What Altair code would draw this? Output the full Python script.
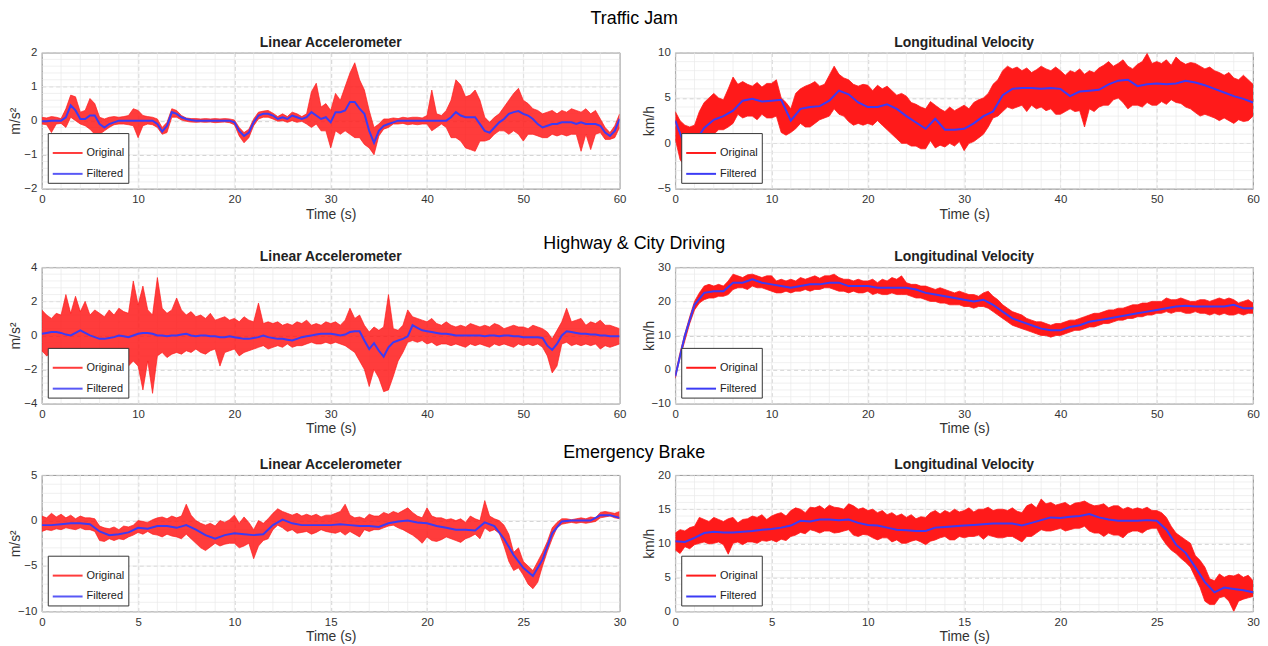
import altair as alt
import numpy as np
import pandas as pd

# ---------------- data ----------------
# "Original" signals are dense noise: given as the upper / lower edge of the red band.
# Traffic Jam - Linear Accelerometer (m/s^2), 0..60 s, every 0.5 s
tj_acc_upper = [
    0.1, 0.08, 0.12, 0.1, 0.06, 0.35, 0.75, 0.7, 0.25, 0.3,
    0.65, 0.5, 0.1, 0.05, 0.1, 0.12, 0.1, 0.12, 0.15, 0.35,
    0.3, 0.15, 0.12, 0.1, 0.05, -0.2, -0.05, 0.35, 0.3, 0.15,
    0.08, 0.06, 0.06, 0.05, 0.06, 0.05, 0.06, 0.05, 0.06, 0.05,
    0.02, -0.2, -0.35, -0.25, 0.05, 0.25, 0.28, 0.3, 0.22, 0.12,
    0.2, 0.12, 0.25, 0.2, 0.12, 0.2, 0.85, 1.1, 0.4, 0.5,
    0.3, 0.8, 0.6, 1.0, 1.4, 1.7, 1.2, 0.9, 0.3, -0.2,
    -0.1, 0.05, 0.05, 0.08, 0.06, 0.1, 0.08, 0.1, 0.1, 0.08,
    0.15, 0.9, 0.2, 0.15, 0.3, 0.6, 1.2, 1.05, 0.7, 0.75,
    0.9, 0.6, 0.1, -0.05, 0.1, 0.2, 0.4, 0.6, 0.8, 0.95,
    0.6, 0.5, 0.35, 0.3, 0.2, 0.25, 0.3, 0.2, 0.3, 0.25,
    0.35, 0.3, 0.25, 0.35, 0.2, 0.3, 0.05, -0.2, -0.35, -0.15,
    0.2,
]
tj_acc_lower = [
    -0.1, -0.12, -0.35, -0.1, -0.08, -0.2, 0.1, 0.0, -0.1, -0.15,
    -0.25, -0.4, -0.4, -0.3, -0.2, -0.12, -0.1, -0.1, -0.12, -0.15,
    -0.5, -0.15, -0.1, -0.12, -0.2, -0.4, -0.35, 0.1, 0.1, 0.02,
    -0.02, -0.04, -0.05, -0.04, -0.05, -0.04, -0.06, -0.05, -0.04, -0.06,
    -0.12, -0.45, -0.65, -0.5, -0.15, 0.05, 0.1, 0.1, 0.05, -0.02,
    0.0, -0.05, 0.0, -0.05, -0.02, -0.1, -0.2, -0.1, -0.3, -0.3,
    -0.8, -0.3, -0.4, -0.3, -0.4, -0.5, -0.5, -0.7, -0.8, -1.0,
    -0.45, -0.25, -0.2, -0.1, -0.1, -0.08, -0.12, -0.1, -0.12, -0.1,
    -0.1, -0.3, -0.2, -0.1, -0.2, -0.5, -0.5, -0.6, -0.8, -0.85,
    -0.9, -0.6, -0.6, -0.55, -0.4, -0.3, -0.3, -0.4, -0.3, -0.4,
    -0.6, -0.4, -0.4, -0.45, -0.5, -0.5, -0.4, -0.45, -0.4, -0.45,
    -0.4, -0.4, -0.9, -0.4, -0.85, -0.4, -0.35, -0.55, -0.55, -0.5,
    -0.2,
]
tj_acc_filt = [
    -0.02, -0.02, 0.0, 0.0, 0.0, 0.1, 0.45, 0.3, 0.05, 0.05,
    0.15, 0.15, -0.1, -0.2, -0.1, -0.05, 0.0, 0.0, 0.0, 0.0,
    0.0, 0.0, 0.0, 0.0, -0.1, -0.32, -0.15, 0.25, 0.2, 0.1,
    0.05, 0.02, 0.0, 0.0, 0.0, 0.0, 0.0, 0.0, 0.0, 0.0,
    -0.05, -0.3, -0.45, -0.35, -0.05, 0.15, 0.2, 0.2, 0.15, 0.05,
    0.1, 0.05, 0.15, 0.1, 0.05, 0.1, 0.25, 0.15, 0.05, 0.1,
    -0.05, 0.25, 0.25, 0.3, 0.55, 0.55, 0.35, 0.2, -0.3, -0.65,
    -0.3, -0.15, -0.1, -0.05, 0.0, 0.0, 0.0, 0.0, 0.0, 0.0,
    0.0, 0.0, 0.0, 0.0, 0.0, 0.1, 0.25, 0.15, 0.1, 0.1,
    0.1, -0.1, -0.3, -0.35, -0.2, -0.05, 0.05, 0.2, 0.25, 0.28,
    0.2, 0.15, 0.05, -0.1, -0.2, -0.15, -0.1, -0.1, -0.05, -0.05,
    -0.05, -0.1, -0.05, -0.1, -0.1, -0.1, -0.15, -0.35, -0.45, -0.3,
    0.05,
]

# Traffic Jam - Longitudinal Velocity (km/h), 0..60 s
tj_vel_upper = [
    3.5, 2.5, 2.0, 1.8, 2.0, 3.5, 4.5, 5.0, 5.5, 5.0,
    4.8, 6.0, 7.3, 6.5, 6.8, 6.5, 6.3, 6.7, 6.2, 6.6,
    6.6, 7.0, 5.0, 4.5, 3.8, 5.5, 6.0, 6.3, 6.5, 6.8,
    6.3, 6.5, 7.5, 8.5, 7.6, 7.2, 7.0, 6.5, 6.3, 6.5,
    6.4, 5.8, 6.4, 6.0, 6.3, 5.8, 5.3, 5.5, 5.2, 4.5,
    4.3, 4.0, 3.8, 4.6, 4.2, 3.8, 3.5, 4.0, 3.6, 3.9,
    4.2, 3.8, 4.5, 4.8, 5.0, 5.5, 6.5, 7.0, 8.0, 8.5,
    8.2, 8.4, 8.0, 8.3, 7.8, 8.1, 8.5, 8.2, 8.0, 8.4,
    8.0, 7.5, 8.0, 7.8, 8.2, 7.6, 8.0, 7.8, 8.3, 8.6,
    9.0, 8.5, 8.8, 9.2, 8.5, 8.2, 8.7, 9.0, 9.9, 8.8,
    9.0, 8.8, 9.2, 8.6, 9.5, 9.0, 8.7, 8.9, 8.8, 8.5,
    8.2, 8.4, 8.0, 7.8, 7.5, 7.8, 7.2, 7.0, 7.5, 7.0,
    6.5,
]
tj_vel_lower = [
    0.5, -1.8, -2.5, -1.8, -1.5, -1.0, 0.2, 0.8, 1.0, 1.5,
    1.5, 1.8, 2.2, 3.2, 2.8, 3.0, 3.0, 2.6, 3.2, 2.8,
    2.8, 3.0, 1.2, 0.9, 1.2, 1.6, 2.2, 1.8, 1.8, 2.2,
    2.6, 2.8, 3.0, 3.8, 3.2, 3.0, 2.4, 2.0, 2.2, 2.0,
    2.2, 2.0, 2.5, 2.0, 1.5, 1.0, 0.5, 0.0, 0.0, -0.3,
    -0.3, -0.6, -0.6, 0.3, -0.5, -0.2, -0.4, 0.0, -0.3, 0.2,
    -0.8, 0.0, 0.2, 0.6, 1.0, 1.8, 2.8, 3.0, 3.5, 4.0,
    3.8, 4.0, 4.2, 3.5, 4.2, 3.8, 4.0, 3.6, 3.8, 3.2,
    3.2, 3.5, 3.8, 3.5, 3.6, 1.8, 3.8, 3.5, 4.0, 4.2,
    4.2, 4.8, 5.0, 4.5, 3.8, 4.2, 4.2, 4.0, 4.5, 4.2,
    4.2, 4.6, 4.3, 4.8, 4.5, 4.4, 4.0, 3.8, 3.4, 3.0,
    3.2, 3.0, 2.8, 2.5, 2.8, 2.5, 2.2, 2.6, 2.4, 2.5,
    3.0,
]
tj_vel_filt = [
    2.5, -0.3, 0.1, 1.7, 2.6, 3.0, 3.6, 4.7, 4.9, 4.6,
    4.7, 4.8, 2.5, 3.8, 4.0, 4.1, 4.7, 5.8, 5.4, 4.5,
    4.0, 4.0, 4.3, 3.8, 3.0, 2.3, 1.6, 2.7, 1.5, 1.5,
    1.6, 2.2, 3.0, 3.5, 5.3, 6.0, 6.1, 6.1, 6.0, 6.1,
    6.0, 5.2, 5.7, 5.8, 5.9, 6.5, 6.9, 7.0, 6.3, 6.5,
    6.6, 6.5, 6.6, 6.9, 6.7, 6.4, 6.0, 5.6, 5.2, 4.9,
    4.5,
]

# Highway & City Driving - Linear Accelerometer (m/s^2), 0..60 s
hw_acc_upper = [
    1.5, 1.2, 1.0, 1.3, 1.2, 2.4, 1.3, 2.3, 1.4, 2.0,
    1.2, 1.5, 1.3, 1.1, 1.5, 1.2, 1.6, 1.4, 1.3, 3.2,
    1.8, 2.9, 1.5, 1.2, 3.4, 1.6, 1.3, 1.5, 2.2, 1.5,
    1.2, 1.4, 1.1, 1.2, 1.0, 1.3, 0.9, 1.0, 1.1, 0.9,
    1.0, 0.8, 1.1, 0.9, 0.8, 1.9, 0.7, 0.8, 0.7, 0.8,
    0.6, 0.7, 0.6, 0.8, 0.7, 0.9, 0.6, 0.7, 0.6, 0.8,
    0.7, 0.8, 0.6, 0.9, 1.6, 1.0, 1.2, 0.6, 0.2, 0.5,
    0.3, 0.5, 2.4, 0.4, 0.3, 0.6, 1.5, 1.1, 1.0, 0.9,
    0.8, 1.0, 0.7, 0.6, 0.8, 0.6, 0.5, 0.6, 0.5, 0.7,
    0.6, 0.5, 0.6, 0.5, 0.7, 0.6, 0.4, 0.5, 0.6, 0.5,
    0.5, 0.4, 0.6, 0.5, 0.4, 0.2, -0.2, 0.3, 0.8, 1.6,
    0.8, 0.9, 1.0, 0.6, 0.8, 0.7, 0.9, 0.6, 0.6, 0.5,
    0.4,
]
hw_acc_lower = [
    -0.9, -1.2, -1.0, -1.3, -1.0, -1.4, -1.2, -1.5, -1.0, -1.3,
    -1.4, -1.2, -1.6, -1.4, -2.0, -1.3, -1.5, -1.2, -1.8, -1.5,
    -1.8, -3.2, -1.5, -3.4, -1.2, -1.0, -1.3, -1.1, -1.0, -1.1,
    -0.9, -1.0, -0.8, -1.0, -1.1, -0.9, -0.8, -1.8, -1.0, -0.9,
    -0.8, -1.2, -1.0, -0.9, -0.8, -0.7, -0.6, -0.8, -0.7, -0.6,
    -0.7, -0.5, -0.7, -0.6, -0.6, -0.5, -0.4, -0.5, -0.5, -0.4,
    -0.5, -0.4, -0.5, -0.6, -0.8, -1.0, -1.5, -2.0, -3.0, -2.0,
    -2.5, -3.3, -3.2, -2.4, -1.5, -1.0, -0.4, -0.3, -0.4, -0.3,
    -0.5, -0.4, -0.6, -0.5, -0.5, -0.6, -0.5, -0.6, -0.7, -0.5,
    -0.6, -0.5, -0.6, -0.7, -0.5, -0.6, -0.5, -0.6, -0.7, -0.5,
    -0.6, -0.5, -0.6, -0.5, -0.7, -1.2, -2.2, -1.8, -0.5, -0.4,
    -0.6, -0.5, -0.6, -0.5, -0.6, -0.5, -0.8, -0.6, -0.7, -0.6,
    -0.5,
]
hw_acc_filt = [
    0.1, 0.15, 0.2, 0.2, 0.15, 0.05, 0.0, 0.15, 0.3, 0.15,
    0.0, -0.1, -0.2, -0.2, -0.15, -0.1, 0.0, -0.05, -0.1, 0.0,
    0.1, 0.15, 0.15, 0.1, 0.0, 0.0, -0.05, 0.0, 0.0, 0.05,
    0.1, 0.0, -0.05, 0.0, 0.0, -0.05, -0.05, -0.1, -0.1, -0.05,
    -0.1, -0.15, -0.2, -0.2, -0.15, -0.1, 0.0, -0.1, -0.15, -0.2,
    -0.2, -0.25, -0.3, -0.2, -0.1, -0.05, 0.0, 0.05, 0.1, 0.1,
    0.1, 0.05, 0.0, 0.05, 0.2, 0.25, 0.25, -0.3, -0.8, -0.45,
    -0.9, -1.25, -0.7, -0.4, -0.3, -0.2, -0.05, 0.6, 0.45, 0.3,
    0.25, 0.2, 0.15, 0.1, 0.1, 0.05, 0.0, 0.0, 0.0, 0.0,
    0.0, 0.0, -0.05, 0.0, 0.0, -0.05, 0.0, 0.0, -0.05, -0.05,
    -0.1, -0.1, -0.1, -0.1, -0.15, -0.6, -0.85, -0.5, 0.0, 0.25,
    0.2, 0.15, 0.1, 0.1, 0.05, 0.05, 0.0, 0.0, -0.05, -0.05,
    -0.05,
]

# Highway & City Driving - Longitudinal Velocity (km/h), 0..60 s
hw_vel_upper = [
    -1.5, 5.0, 10.5, 15.5, 20.0, 22.5, 24.5, 25.0, 24.5, 25.0,
    24.5, 26.0, 28.0, 27.5, 27.0, 27.8, 28.0, 27.5, 27.0, 27.5,
    27.5, 26.0, 26.5, 26.0, 26.5, 26.0, 27.0, 26.5, 27.0, 27.5,
    26.8, 27.5, 27.5, 28.0, 27.0, 26.5, 26.5, 26.0, 26.5, 26.0,
    26.0, 26.5, 25.5, 26.5, 26.0, 27.0, 26.5, 27.5, 25.5, 25.0,
    25.0, 24.5, 24.5, 24.0, 23.5, 24.0, 23.5, 23.0, 22.5, 23.0,
    22.5, 22.0, 22.0, 21.5, 22.5, 23.0, 21.5, 20.5, 19.0, 18.0,
    17.0, 16.5, 16.0, 15.0, 14.5, 14.0, 14.0, 13.5, 13.0, 13.5,
    13.5, 14.0, 14.5, 14.5, 15.0, 15.5, 16.0, 16.5, 16.5, 17.0,
    17.5, 17.5, 18.0, 18.0, 18.5, 19.0, 19.0, 19.5, 19.5, 20.0,
    20.0, 20.0, 21.0, 20.5, 20.5, 21.0, 20.5, 20.0, 20.0, 20.5,
    20.5, 20.0, 20.5, 21.0, 20.5, 21.0, 20.5, 19.5, 20.0, 20.5,
    19.5,
]
hw_vel_lower = [
    -2.5, 3.5, 8.5, 13.5, 17.5, 19.5, 20.5, 21.0, 21.0, 21.5,
    21.5, 22.0, 23.5, 24.0, 24.0, 23.5, 24.5, 24.0, 24.0, 23.5,
    23.0, 22.5, 22.5, 23.0, 22.5, 23.0, 23.0, 23.5, 23.0, 23.5,
    23.5, 24.0, 24.0, 23.5, 23.0, 23.0, 22.5, 23.0, 22.5, 22.5,
    23.0, 22.0, 22.5, 22.0, 22.0, 22.5, 22.0, 22.0, 22.0, 21.5,
    21.0, 21.0, 20.5, 20.0, 20.0, 19.5, 19.5, 19.0, 19.0, 19.0,
    18.5, 18.5, 18.0, 18.5, 18.5, 18.0, 17.0, 16.0, 15.0, 14.0,
    13.0, 12.5, 12.0, 11.5, 11.0, 10.5, 10.0, 10.0, 9.5, 10.0,
    10.0, 10.5, 11.0, 11.5, 11.5, 12.0, 12.5, 12.5, 13.0, 13.5,
    13.5, 14.0, 14.5, 14.5, 15.0, 15.0, 15.5, 15.5, 16.0, 16.0,
    16.5, 16.5, 17.0, 16.5, 17.0, 17.0, 16.5, 16.5, 17.0, 16.5,
    16.5, 16.0, 16.5, 16.0, 16.5, 16.0, 16.0, 16.5, 16.0, 16.5,
    16.5,
]
hw_vel_filt = [
    -2.0, 10.0, 19.0, 22.5, 23.0, 23.0, 25.5, 25.5, 26.5, 25.5,
    25.0, 24.5, 24.0, 24.5, 25.0, 25.0, 25.5, 25.5, 24.5, 24.5,
    24.5, 24.0, 24.0, 24.0, 24.0, 23.5, 22.5, 22.0, 21.5, 21.0,
    20.5, 20.0, 20.5, 19.0, 17.0, 15.0, 14.0, 13.0, 12.0, 11.5,
    11.5, 12.5, 13.0, 14.0, 14.5, 15.0, 15.5, 16.0, 16.5, 17.0,
    17.5, 18.0, 18.5, 18.7, 18.5, 18.5, 18.5, 18.5, 19.0, 18.0,
    18.0,
]

# Emergency Brake - Linear Accelerometer (m/s^2), 0..30 s, every 0.25 s
eb_acc_upper = [
    0.5, 0.3, 0.8, 0.4, 0.7, 0.3, 0.6, 0.2, 0.5, 0.3,
    0.3, 0.2, -0.6, -0.8, -0.9, -0.7, -1.0, -0.6, -0.7, -0.5,
    0.0, -0.1, -0.2, 0.1, 0.3, 0.4, 0.2, 0.5, 0.3, 0.5,
    1.8, 0.6, 0.0, -0.3, -0.5, -0.3, -0.6, 0.0, -0.2, 0.1,
    0.6, -0.3, 0.4, -0.2, -1.0, 0.0, -0.3, 0.2, 0.8, 1.3,
    1.0, 0.8, 0.6, 0.8, 0.5, 0.7, 0.5, 0.7, 0.4, 0.6,
    0.6, 0.8, 1.0, 1.8, 0.6, 0.3, 0.4, 0.2, 0.7, 0.5,
    0.5, 0.9, 0.7, 1.0, 0.8, 1.1, 1.4, 0.9, 0.5, 0.3,
    1.4, 0.5, 0.3, 0.3, 0.1, 0.2, 0.0, 0.2, -0.2, 0.5,
    0.2, 0.0, 2.2, 0.5, 0.2, 0.0, -0.5, -1.5, -3.5, -3.0,
    -4.5, -5.0, -5.5, -4.5, -3.5, -2.3, -0.8, -0.2, 0.2, 0.2,
    0.1, 0.2, 0.3, 0.2, 0.4, 0.3, 0.9, 1.0, 0.9, 0.8,
    1.0,
]
eb_acc_lower = [
    -1.2, -1.0, -1.1, -0.9, -1.0, -0.8, -0.9, -1.0, -0.8, -1.0,
    -1.0, -1.2, -2.2, -2.3, -2.0, -2.2, -2.0, -2.1, -1.8, -1.6,
    -1.3, -1.5, -1.2, -1.5, -1.6, -1.8, -1.5, -1.7, -1.8, -2.0,
    -1.5, -2.0, -2.5, -3.0, -3.3, -2.9, -2.5, -2.8, -2.6, -2.5,
    -2.5, -3.0, -2.8, -2.5, -4.2, -2.8, -2.2, -2.0, -1.0, -0.5,
    -0.8, -1.2, -1.0, -1.4, -1.3, -1.2, -1.5, -1.3, -1.0, -1.2,
    -1.3, -1.4, -1.2, -1.6, -1.2, -1.5, -1.8, -1.0, -1.2, -1.0,
    -1.0, -0.8, -0.6, -0.5, -0.8, -1.0, -1.3, -1.6, -2.0, -2.5,
    -1.8, -2.2, -2.3, -2.1, -1.8, -2.0, -2.2, -2.4, -2.0, -1.8,
    -1.5, -2.0, -0.8, -1.2, -1.0, -1.4, -2.8, -4.5, -5.5, -5.2,
    -6.0, -7.0, -7.5, -6.8, -5.0, -3.4, -2.0, -0.8, -0.4, -0.3,
    -0.2, -0.3, -0.2, -0.3, -0.2, -0.1, 0.3, 0.4, 0.5, 0.3,
    0.2,
]
eb_acc_filt = [
    -0.5, -0.5, -0.4, -0.3, -0.3, -0.4, -1.2, -1.6, -1.5, -1.3,
    -0.8, -0.9, -0.6, -0.6, -0.8, -0.5, -1.0, -1.6, -2.0, -1.6,
    -1.4, -1.5, -1.6, -1.5, -0.5, 0.1, -0.3, -0.5, -0.5, -0.5,
    -0.5, -0.4, -0.5, -0.6, -0.6, -0.7, -0.3, -0.1, 0.0, -0.2,
    -0.3, -0.6, -0.8, -1.0, -1.0, -1.1, -0.2, -0.6, -2.0, -3.8,
    -5.2, -6.1, -4.3, -1.4, -0.1, 0.0, 0.0, 0.0, 0.6, 0.6,
    0.3,
]

# Emergency Brake - Longitudinal Velocity (km/h), 0..30 s
eb_vel_upper = [
    11.5, 12.0, 11.8, 12.3, 12.5, 13.8, 13.5, 13.2, 13.8, 13.5,
    13.2, 13.6, 13.8, 13.0, 13.5, 13.6, 14.0, 13.8, 14.2, 13.5,
    14.0, 14.3, 14.5, 14.0, 14.8, 15.2, 15.0, 14.5, 15.3, 15.2,
    15.5, 15.0, 15.6, 15.3, 15.2, 15.0, 15.8, 15.5, 15.0, 15.2,
    14.8, 15.0, 14.5, 14.8, 14.2, 14.5, 14.0, 14.3, 13.8, 14.2,
    13.6, 13.9, 13.8, 14.5, 14.8, 14.3, 14.8, 14.5, 15.0, 14.6,
    14.8, 15.2, 14.6, 15.0, 15.0, 15.3, 14.8, 15.0, 15.0, 14.8,
    15.2, 14.7, 14.5, 15.5, 15.8, 15.2, 16.5, 15.8, 16.0, 15.6,
    15.8, 16.0, 15.5, 15.9, 16.0, 16.2, 15.8, 15.5, 15.6, 15.8,
    15.2, 15.5, 15.5, 15.0, 15.3, 15.0, 15.2, 15.0, 15.3, 14.8,
    14.8, 14.5, 13.8, 12.5, 11.5, 11.0, 10.5, 10.0, 8.2, 7.5,
    6.5, 4.8, 4.5, 5.5, 5.0, 5.3, 5.2, 5.5, 5.0, 5.3,
    4.5,
]
eb_vel_lower = [
    9.0, 8.5, 9.5, 9.2, 9.8, 10.0, 10.2, 9.9, 10.0, 10.2,
    9.8, 8.4, 10.0, 10.2, 9.8, 10.2, 10.2, 10.0, 10.4, 10.3,
    10.5, 10.2, 10.6, 10.4, 11.0, 11.2, 11.6, 11.4, 12.0, 11.8,
    11.5, 11.8, 11.8, 11.5, 11.6, 11.8, 12.0, 11.2, 11.0, 11.3,
    11.2, 10.8, 10.5, 10.8, 10.8, 10.2, 10.5, 10.0, 10.0, 10.3,
    10.5, 10.2, 9.8, 10.3, 10.5, 10.8, 11.0, 10.5, 10.5, 11.0,
    10.8, 11.0, 11.0, 11.2, 10.6, 11.2, 11.0, 10.8, 10.8, 11.0,
    11.0, 10.6, 10.2, 11.0, 11.0, 11.5, 12.0, 11.8, 11.8, 12.0,
    12.2, 11.8, 12.0, 12.2, 12.2, 12.5, 11.8, 11.5, 11.5, 11.0,
    11.5, 11.2, 11.2, 10.8, 11.5, 11.8, 11.8, 11.5, 12.0, 12.2,
    12.2, 10.8, 9.8, 9.0, 8.5, 7.8, 7.2, 6.5, 5.0, 3.5,
    1.5, 1.0, 1.0, 2.0, 2.2, 1.5, 0.0, 1.5, 1.8, 2.0,
    2.2,
]
eb_vel_filt = [
    10.3, 10.2, 10.8, 11.5, 11.7, 11.6, 11.6, 11.7, 11.8, 12.0,
    12.1, 12.3, 12.6, 13.3, 13.2, 13.5, 13.5, 13.4, 13.5, 13.0,
    12.7, 12.6, 12.3, 12.0, 11.9, 11.8, 11.8, 12.3, 12.4, 12.5,
    12.6, 12.7, 12.8, 12.9, 12.9, 12.9, 12.6, 13.0, 13.4, 13.8,
    13.7, 13.9, 14.0, 14.3, 13.8, 13.5, 13.3, 13.3, 13.3, 13.4,
    13.3, 12.0, 9.8, 8.6, 6.5, 4.3, 2.8, 3.5, 3.3, 3.1,
    2.8,
]

row_titles = ["Traffic Jam", "Highway & City Driving", "Emergency Brake"]
panel_titles = ["Linear Accelerometer", "Longitudinal Velocity"]
series_names = ["Original", "Filtered"]

# ---------------- style ----------------
FONT = "Liberation Sans"
RED = "#ff1a1a"
BLUE = "#3b3bf5"
W, H = 581, 137


def panel(title, upper, lower, filt, T, ydom, yticks, ytitle, xminor_step, yminor_step,
          red_opacity):
    n = len(upper)
    tt = np.linspace(0, T, n)
    band = pd.DataFrame({"t": tt, "lo": lower, "hi": upper})
    edges = pd.DataFrame({
        "t": np.concatenate([tt, tt]),
        "v": list(upper) + list(lower),
        "edge": ["upper"] * n + ["lower"] * n,
        "s": series_names[0],
    })
    d_f = pd.DataFrame({"t": np.linspace(0, T, len(filt)), "v": filt, "s": series_names[1]})
    xs = alt.Scale(domain=[0, T], nice=False, zero=False)
    ys = alt.Scale(domain=ydom, nice=False, zero=False)
    xaxis = alt.Axis(title="Time (s)", values=list(range(0, T + 1, T // 6)), grid=True,
                     gridDash=[4, 3], gridColor="#c4c4c4", gridWidth=0.8, ticks=False,
                     domain=False, labelPadding=5, titlePadding=2, labelFlush=False)
    yaxis = alt.Axis(title=ytitle, values=yticks, grid=True, gridDash=[4, 3],
                     gridColor="#c4c4c4", gridWidth=0.8, ticks=False, domain=False,
                     labelPadding=5, titlePadding=3, minExtent=16, maxExtent=16,
                     labelFlush=False)
    color = alt.Color(
        "s:N",
        scale=alt.Scale(domain=series_names, range=[RED, BLUE]),
        legend=alt.Legend(title=None, orient="bottom-left", offset=6, symbolType="stroke",
                          symbolSize=900, symbolStrokeWidth=2, labelFontSize=11,
                          labelFont=FONT, labelColor="#222", fillColor="white",
                          strokeColor="#333", padding=4, rowPadding=0, labelOffset=3,
                          cornerRadius=0),
    )
    mx = pd.DataFrame({"x": np.arange(0, T + 1e-9, xminor_step)})
    my = pd.DataFrame({"y": np.arange(ydom[0], ydom[1] + 1e-9, yminor_step)})
    gx = alt.Chart(mx).mark_rule(color="#e9e9e9", strokeWidth=0.7).encode(
        x=alt.X("x:Q", scale=xs, axis=xaxis))
    gy = alt.Chart(my).mark_rule(color="#e9e9e9", strokeWidth=0.7).encode(
        y=alt.Y("y:Q", scale=ys, axis=yaxis))
    area = alt.Chart(band).mark_area(color=RED, opacity=red_opacity, clip=True).encode(
        x=alt.X("t:Q", scale=xs, axis=xaxis), y=alt.Y("lo:Q", scale=ys, axis=yaxis), y2="hi:Q")
    edge = alt.Chart(edges).mark_line(strokeWidth=0.8, opacity=red_opacity, clip=True).encode(
        x=alt.X("t:Q", scale=xs, axis=xaxis), y=alt.Y("v:Q", scale=ys, axis=yaxis),
        detail="edge:N", color=color)
    lf = alt.Chart(d_f).mark_line(strokeWidth=2, clip=True).encode(
        x=alt.X("t:Q", scale=xs, axis=xaxis), y=alt.Y("v:Q", scale=ys, axis=yaxis), color=color)
    return alt.layer(gx, gy, area, edge, lf).properties(
        width=W, height=H,
        title=alt.TitleParams(title, fontSize=14, fontWeight="bold", font=FONT, offset=-3,
                              color="#222"))


def row(title, left, right, toff):
    return alt.hconcat(left, right, spacing=15).properties(
        title=alt.TitleParams(title, fontSize=18, fontWeight="normal", font=FONT,
                              anchor="middle", offset=toff, color="black")
    ).resolve_scale(color="independent").resolve_legend(color="independent")


r1 = row(row_titles[0],
         panel(panel_titles[0], tj_acc_upper, tj_acc_lower, tj_acc_filt, 60, [-2, 2],
               [-2, -1, 0, 1, 2], "m/s²", 2, 0.2, 0.85),
         panel(panel_titles[1], tj_vel_upper, tj_vel_lower, tj_vel_filt, 60, [-5, 10],
               [-5, 0, 5, 10], "km/h", 2, 1, 1.0),
         7)
r2 = row(row_titles[1],
         panel(panel_titles[0], hw_acc_upper, hw_acc_lower, hw_acc_filt, 60, [-4, 4],
               [-4, -2, 0, 2, 4], "m/s²", 2, 0.4, 0.85),
         panel(panel_titles[1], hw_vel_upper, hw_vel_lower, hw_vel_filt, 60, [-10, 30],
               [-10, 0, 10, 20, 30], "km/h", 2, 2, 1.0),
         -3)
r3 = row(row_titles[2],
         panel(panel_titles[0], eb_acc_upper, eb_acc_lower, eb_acc_filt, 30, [-10, 5],
               [-10, -5, 0, 5], "m/s²", 1, 1, 0.85),
         panel(panel_titles[1], eb_vel_upper, eb_vel_lower, eb_vel_filt, 30, [0, 20],
               [0, 5, 10, 15, 20], "km/h", 1, 1, 1.0),
         -4)

lower_rows = alt.vconcat(r2, r3, spacing=7).resolve_scale(color="independent").resolve_legend(
    color="independent")

chart = alt.vconcat(r1, lower_rows, spacing=13).resolve_scale(color="independent").resolve_legend(
    color="independent"
).properties(
    padding={"left": 0, "top": 0, "right": 0, "bottom": 0}
).configure_view(
    stroke="#333", strokeWidth=0.8
).configure_axis(
    labelFont=FONT, titleFont=FONT, labelFontSize=11.5, titleFontSize=14,
    labelColor="#333", titleColor="#333", titleFontWeight="normal"
)

chart.save("out.html", embed_options={"renderer": "svg", "actions": False})
